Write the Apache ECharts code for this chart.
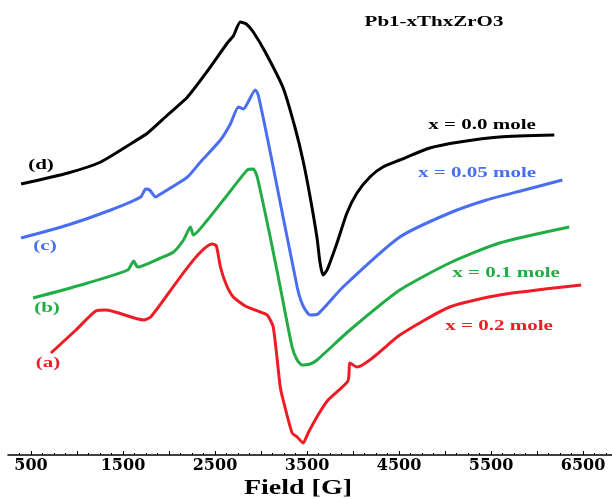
<!DOCTYPE html>
<html>
<head>
<meta charset="utf-8">
<script src="https://cdn.jsdelivr.net/npm/echarts@6/dist/echarts.min.js"></script>
<style>
  html, body { margin: 0; padding: 0; background: #fff; }
  #chart { width: 612px; height: 498px; }
</style>
</head>
<body>
<div id="chart"></div>
<script>
// EPR spectra, Pb1-xThxZrO3 (intensity in arbitrary units)
var tickLabels = [500, 1500, 2500, 3500, 4500, 5500, 6500];

// (d) x = 0.0 mole
var fieldD = [392, 901, 1258, 1616, 1768, 1984, 2201, 2418, 2634, 2699, 2775, 2840, 2916, 3046, 3241, 3371, 3458, 3534, 3609, 3642, 3674, 3718, 3826, 3934, 4043, 4184, 4325, 4509, 4834, 5159, 5592, 6188];
var intD = [272, 283, 294, 314, 323, 341, 359, 385, 413, 420, 434, 432, 424, 404, 368, 328, 295, 259, 218, 193, 181, 186, 213, 243, 263, 279, 289, 296, 308, 314, 319, 321];

// (c) x = 0.05 mole
var fieldC = [392, 901, 1367, 1692, 1746, 1789, 1854, 1908, 2201, 2342, 2559, 2667, 2754, 2808, 2938, 2970, 3100, 3393, 3458, 3534, 3620, 3891, 4509, 5050, 5451, 5863, 6275];
var intC = [218, 231, 246, 259, 267, 266, 259, 262, 279, 294, 316, 332, 349, 347, 366, 361, 304, 169, 150, 141, 142, 169, 219, 243, 256, 266, 276];

// (b) x = 0.1 mole
var fieldB = [522, 1042, 1551, 1616, 1659, 1908, 2049, 2158, 2233, 2266, 2418, 2634, 2851, 2916, 2959, 3100, 3209, 3338, 3393, 3447, 3534, 3609, 3967, 4509, 5050, 5592, 6350];
var intB = [158, 171, 186, 195, 189, 198, 204, 216, 229, 221, 236, 261, 286, 287, 279, 219, 169, 109, 96, 91, 92, 96, 126, 166, 193, 213, 229];

// (a) x = 0.2 mole
var fieldA = [717, 988, 1204, 1313, 1724, 1800, 2472, 2515, 2559, 2624, 2699, 2829, 2992, 3068, 3133, 3209, 3241, 3338, 3393, 3458, 3512, 3620, 3729, 3945, 3967, 4043, 4509, 5050, 5592, 6480];
var intA = [103, 126, 145, 146, 136, 139, 212, 210, 189, 171, 159, 150, 144, 141, 129, 69, 56, 23, 19, 13, 23, 41, 56, 75, 93, 89, 121, 149, 161, 171];

function zip(xs, ys) {
  return xs.map(function (x, i) { return [x, ys[i]]; });
}

var minorTicks = [];
for (var v = 375; v <= 6750; v += 125) minorTicks.push(v);
var majorTicks = [];
for (var v2 = 500; v2 <= 6500; v2 += 500) majorTicks.push(v2);

var serif = '"Liberation Serif", "Times New Roman", serif';

function label(text, x, y, color, size) {
  return {
    type: 'text',
    x: x,
    y: y,
    scaleX: 1.4,
    style: {
      text: text,
      x: 0,
      y: 0,
      textAlign: 'center',
      textVerticalAlign: 'middle',
      font: 'bold ' + (size || 15) + 'px ' + serif,
      fill: color
    }
  };
}

var chartDom = document.getElementById('chart');
var myChart = echarts.init(chartDom);
var option;

option = {
  animation: false,
  backgroundColor: '#fff',
  grid: {
    left: 8,
    right: 0,
    top: 0,
    bottom: 43,
    outerBoundsMode: 'none'
  },
  xAxis: [
    {
      type: 'value',
      min: 250,
      max: 6815,
      position: 'bottom',
      axisLine: { show: true, lineStyle: { color: '#000', width: 1.5 } },
      axisTick: {
        show: true,
        inside: true,
        length: 4,
        customValues: majorTicks,
        lineStyle: { color: '#000', width: 1 }
      },
      axisLabel: {
        customValues: tickLabels,
        formatter: function (val) { return String(val); },
        margin: 3,
        color: '#000',
        fontFamily: '"DejaVu Serif", serif',
        fontWeight: 'bold',
        fontSize: 16
      },
      splitLine: { show: false }
    },
    {
      type: 'value',
      min: 250,
      max: 6815,
      position: 'bottom',
      axisLine: { show: false },
      axisTick: {
        show: true,
        inside: true,
        length: 2,
        customValues: minorTicks,
        lineStyle: { color: '#000', width: 1 }
      },
      axisLabel: { show: false },
      splitLine: { show: false }
    }
  ],
  yAxis: {
    type: 'value',
    min: 1,
    max: 456,
    show: false
  },
  series: [
    { name: 'x = 0.0 mole', type: 'line', data: zip(fieldD, intD), color: '#000000' },
    { name: 'x = 0.05 mole', type: 'line', data: zip(fieldC, intC), color: '#4a6ef2' },
    { name: 'x = 0.1 mole', type: 'line', data: zip(fieldB, intB), color: '#22ac45' },
    { name: 'x = 0.2 mole', type: 'line', data: zip(fieldA, intA), color: '#ee1c24' }
  ].map(function (s) {
    s.showSymbol = false;
    s.smooth = 0.2;
    s.lineStyle = { width: 3, color: s.color };
    return s;
  }),
  graphic: {
    elements: [
      label('Pb1-xThxZrO3', 434, 22, '#000'),
      label('x = 0.0 mole', 482, 125, '#000'),
      label('x = 0.05 mole', 477, 173, '#4a6ef2'),
      label('x = 0.1 mole', 506, 273, '#22ac45'),
      label('x = 0.2 mole', 499, 326, '#ee1c24'),
      label('(d)', 41, 165, '#000'),
      label('(c)', 45, 246, '#4a6ef2'),
      label('(b)', 47, 308, '#22ac45'),
      label('(a)', 48, 363, '#ee1c24'),
      label('Field [G]', 298, 489, '#000', 20)
    ]
  }
};

option && myChart.setOption(option);
</script>
</body>
</html>
